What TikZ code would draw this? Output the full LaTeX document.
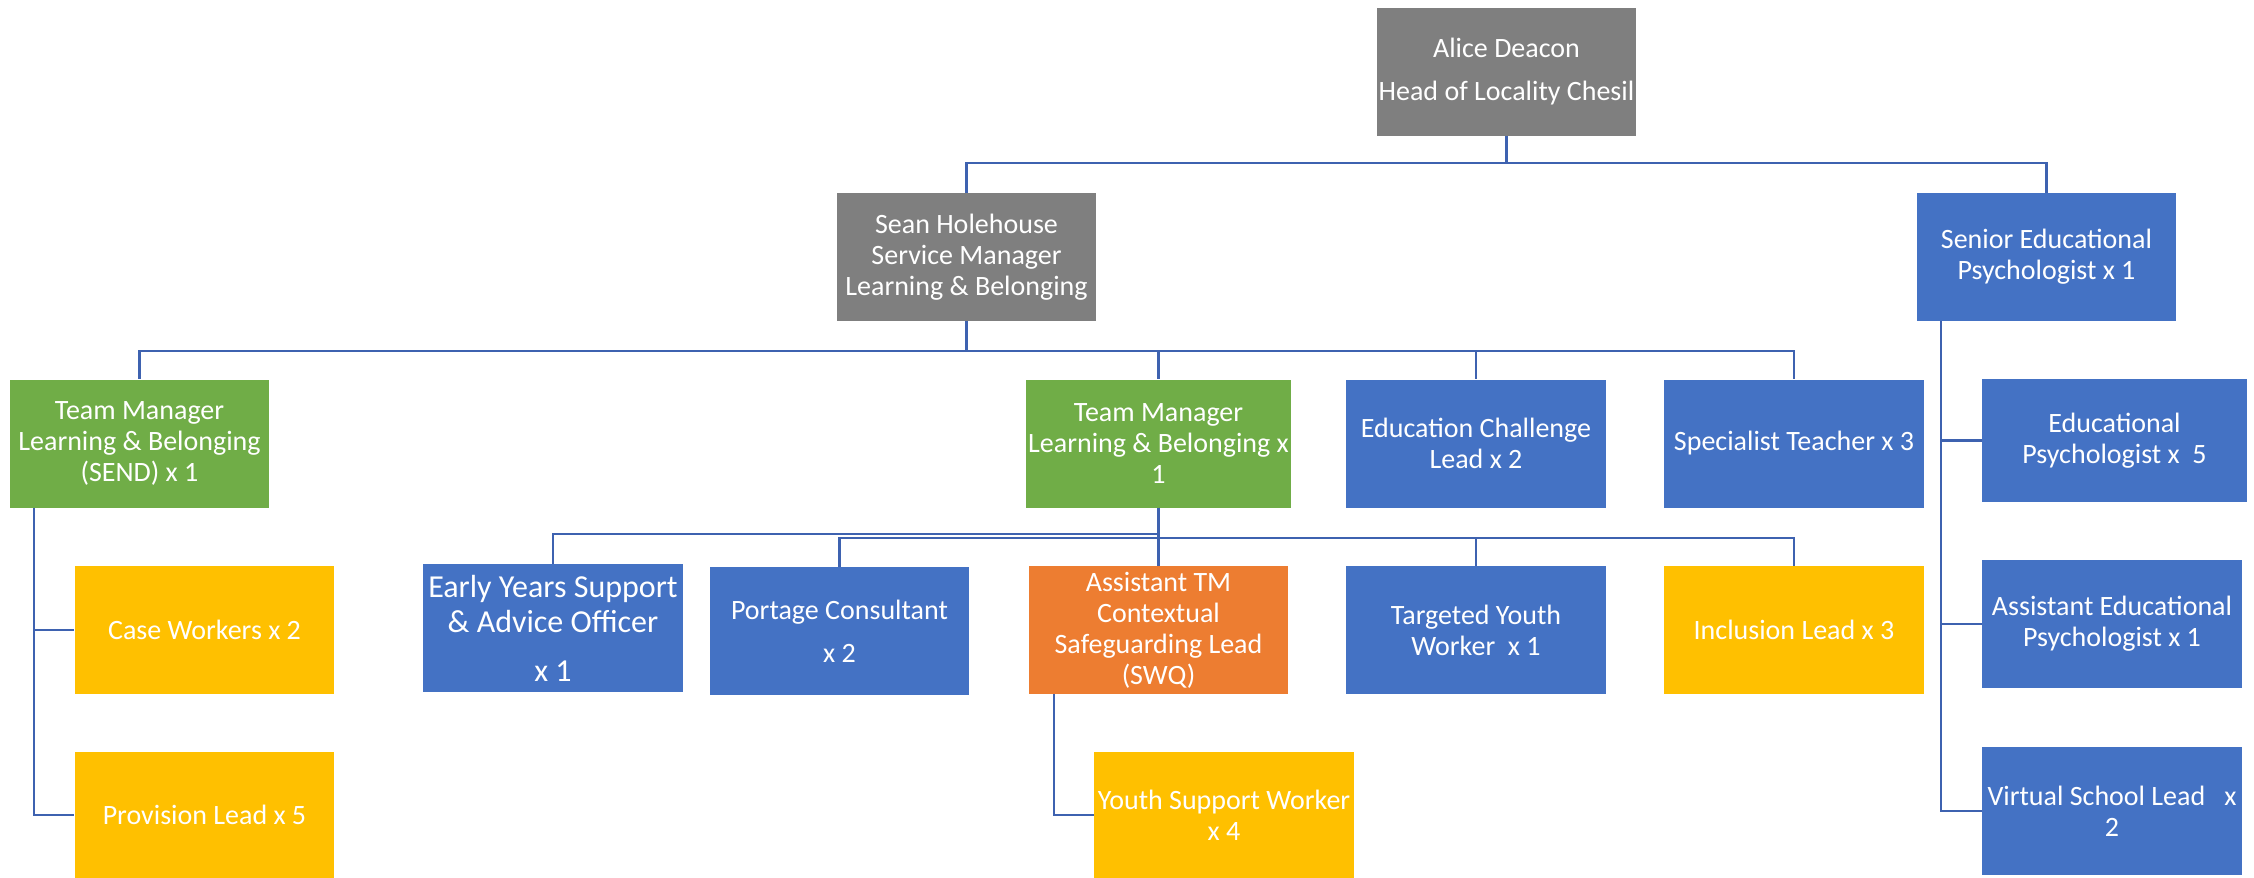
\documentclass[tikz,border=0pt]{standalone}
\usepackage{fontspec}
\setmainfont{Carlito}
\definecolor{cgray}{RGB}{127,127,127}
\definecolor{cblue}{RGB}{68,114,196}
\definecolor{cgreen}{RGB}{112,173,71}
\definecolor{corange}{RGB}{237,125,49}
\definecolor{cyellow}{RGB}{255,192,0}
\definecolor{cline}{RGB}{62,98,176}
\tikzset{
  box/.style={rectangle, inner sep=1pt, minimum width=129.75pt, minimum height=64pt,
    text=white, align=center, font=\fontsize{14}{15.5}\selectfont},
  gbox/.style={box, fill=cgray},
  bbox/.style={box, fill=cblue},
  grbox/.style={box, fill=cgreen},
  obox/.style={box, fill=corange},
  ybox/.style={box, fill=cyellow},
  conn/.style={draw=cline, line width=1.4pt}
}
\begin{document}
\begin{tikzpicture}[x=0.5pt, y=-0.5pt]
\useasboundingbox (0,0) rectangle (2254,878);
% level 0
\node[gbox] (alice) at (1506.5,71.5) {Alice Deacon\\[6pt]Head of Locality Chesil};
% level 1
\node[gbox] (sean) at (966.5,257) {Sean Holehouse\\Service Manager\\Learning \& Belonging};
\node[bbox] (sep) at (2046.5,257) {Senior Educational\\Psychologist x 1};
% level 2
\node[grbox] (tmsend) at (139.5,443.5) {Team Manager\\Learning \& Belonging\\(SEND) x 1};
\node[grbox] (tmlb) at (1158.5,443.5) {Team Manager\\Learning \& Belonging x\\1};
\node[bbox] (edchal) at (1476,443.5) {Education Challenge\\Lead x 2};
\node[bbox] (spec) at (1794,443.5) {Specialist Teacher x 3};
\node[bbox, minimum width=132.5pt, minimum height=61.5pt] (edpsych) at (2114.5,440.5) {Educational\\Psychologist x\ \ 5};
% level 3
\node[ybox] (case) at (204.5,630) {Case Workers x 2};
\node[ybox, minimum height=63pt] (prov) at (204.5,815) {Provision Lead x 5};
\node[bbox, font=\fontsize{16}{17.5}\selectfont] (early) at (553,628) {Early Years Support\\\& Advice Officer\\[7pt]x 1};
\node[bbox] (portage) at (839.5,631) {Portage Consultant\\[6pt]x 2};
\node[obox] (asstm) at (1158.5,630) {Assistant TM\\Contextual\\Safeguarding Lead\\(SWQ)};
\node[bbox] (tyw) at (1476,630) {Targeted Youth\\Worker\ \ x 1};
\node[ybox] (incl) at (1794,630) {Inclusion Lead x 3};
\node[bbox] (asstep) at (2112,624) {Assistant Educational\\Psychologist x 1};
\node[bbox] (vsl) at (2112,811) {Virtual School Lead\ \ \ x\\2};
\node[ybox, minimum height=63pt] (ysw) at (1224,815) {Youth Support Worker\\x 4};
% connectors
\draw[conn] (alice.south) -- (alice.south |- 0,163) -| (sean.north);
\draw[conn] (alice.south) -- (alice.south |- 0,163) -| (sep.north);
\foreach \c in {tmsend,tmlb,edchal,spec}
  \draw[conn] (sean.south) -- (sean.south |- 0,351) -| (\c.north);
\draw[conn] (sep.south -| 1941,0) |- (edpsych.west);
\draw[conn] (sep.south -| 1941,0) |- (asstep.west);
\draw[conn] (sep.south -| 1941,0) |- (vsl.west);
\draw[conn] (tmsend.south -| 34,0) |- (case.west);
\draw[conn] (tmsend.south -| 34,0) |- (prov.west);
\draw[conn] (tmlb.south) -- (tmlb.south |- 0,534) -| (early.north);
\foreach \c in {portage,asstm,tyw,incl}
  \draw[conn] (tmlb.south) -- (tmlb.south |- 0,538) -| (\c.north);
\draw[conn] (asstm.south -| 1054,0) |- (ysw.west);
\end{tikzpicture}
\end{document}
